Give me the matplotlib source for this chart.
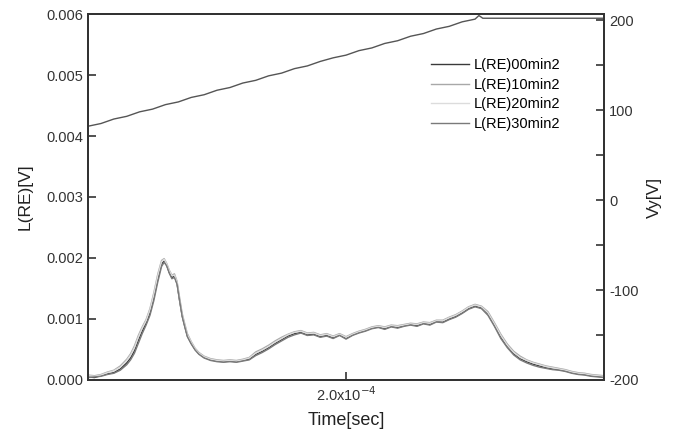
import numpy as np
import matplotlib
matplotlib.use("Agg")
import matplotlib.pyplot as plt

plt.rcParams['font.family'] = ['Liberation Sans', 'DejaVu Sans']
plt.rcParams['axes.unicode_minus'] = False

# time in microseconds
t_us = [0, 5, 10, 15, 20, 25, 30, 33, 36, 39, 42, 45, 48, 51, 54, 57, 59, 61, 63, 65,
        67, 69, 71, 73, 75, 77, 80, 83, 86, 90, 95, 100, 105, 110, 115, 120, 125, 130,
        135, 140, 145, 150, 155, 160, 165, 170, 175, 180, 185, 190, 195, 200, 205, 210,
        215, 220, 225, 230, 235, 240, 245, 250, 255, 260, 265, 270, 275, 280, 285, 290,
        295, 300, 305, 310, 315, 320, 325, 330, 335, 340, 345, 350, 355, 360, 365, 370,
        375, 380, 385, 390, 395, 400]

# L(RE) signals [V]
re_00 = [0.00005, 0.00004, 0.00007, 0.00010, 0.00012, 0.00018, 0.00028, 0.00036, 0.00048, 0.00065,
         0.00080, 0.00093, 0.00110, 0.00135, 0.00165, 0.00190, 0.00195, 0.00188, 0.00176, 0.00168,
         0.00170, 0.00158, 0.00130, 0.00105, 0.00088, 0.00072, 0.00060, 0.00050, 0.00043, 0.00037,
         0.00033, 0.00031, 0.00030, 0.00031, 0.00030, 0.00032, 0.00034, 0.00042, 0.00047, 0.00053,
         0.00060, 0.00066, 0.00072, 0.00076, 0.00078, 0.00074, 0.00075, 0.00071, 0.00073, 0.00069,
         0.00074, 0.00068, 0.00074, 0.00078, 0.00081, 0.00085, 0.00087, 0.00084, 0.00088, 0.00086,
         0.00089, 0.00091, 0.00089, 0.00093, 0.00091, 0.00096, 0.00095, 0.00100, 0.00104, 0.00110,
         0.00117, 0.00121, 0.00118, 0.00108, 0.00090, 0.00070, 0.00055, 0.00043, 0.00035, 0.00030,
         0.00026, 0.00023, 0.00020, 0.00018, 0.00017, 0.00015, 0.00012, 0.00010, 0.00009, 0.00007,
         0.00006, 0.00005]
re_10 = [0.00008, 0.00007, 0.00009, 0.00013, 0.00016, 0.00023, 0.00034, 0.00043, 0.00056, 0.00073,
         0.00087, 0.00099, 0.00117, 0.00143, 0.00173, 0.00196, 0.00199, 0.00191, 0.00180, 0.00172,
         0.00174, 0.00162, 0.00135, 0.00109, 0.00092, 0.00076, 0.00063, 0.00052, 0.00045, 0.00039,
         0.00035, 0.00033, 0.00032, 0.00033, 0.00032, 0.00034, 0.00037, 0.00046, 0.00051, 0.00057,
         0.00064, 0.00070, 0.00075, 0.00079, 0.00081, 0.00077, 0.00078, 0.00074, 0.00076, 0.00072,
         0.00076, 0.00071, 0.00076, 0.00080, 0.00083, 0.00087, 0.00089, 0.00087, 0.00090, 0.00089,
         0.00091, 0.00093, 0.00092, 0.00095, 0.00094, 0.00098, 0.00098, 0.00103, 0.00107, 0.00113,
         0.00120, 0.00124, 0.00121, 0.00112, 0.00094, 0.00075, 0.00059, 0.00047, 0.00039, 0.00033,
         0.00029, 0.00026, 0.00023, 0.00021, 0.00019, 0.00017, 0.00014, 0.00012, 0.00011, 0.00009,
         0.00008, 0.00007]
re_20 = [0.00007, 0.00006, 0.00008, 0.00012, 0.00015, 0.00021, 0.00032, 0.00041, 0.00053, 0.00070,
         0.00085, 0.00097, 0.00115, 0.00140, 0.00170, 0.00194, 0.00198, 0.00190, 0.00179, 0.00171,
         0.00172, 0.00160, 0.00133, 0.00107, 0.00090, 0.00074, 0.00062, 0.00051, 0.00044, 0.00038,
         0.00034, 0.00032, 0.00031, 0.00032, 0.00031, 0.00033, 0.00036, 0.00044, 0.00049, 0.00055,
         0.00062, 0.00068, 0.00074, 0.00078, 0.00080, 0.00076, 0.00077, 0.00073, 0.00075, 0.00071,
         0.00075, 0.00070, 0.00075, 0.00079, 0.00082, 0.00086, 0.00088, 0.00086, 0.00089, 0.00088,
         0.00090, 0.00092, 0.00091, 0.00094, 0.00093, 0.00097, 0.00097, 0.00102, 0.00106, 0.00112,
         0.00119, 0.00123, 0.00120, 0.00110, 0.00092, 0.00073, 0.00057, 0.00045, 0.00037, 0.00032,
         0.00028, 0.00025, 0.00022, 0.00020, 0.00018, 0.00016, 0.00013, 0.00011, 0.00010, 0.00008,
         0.00007, 0.00006]
re_30 = [0.00004, 0.00005, 0.00006, 0.00009, 0.00011, 0.00016, 0.00025, 0.00033, 0.00044, 0.00060,
         0.00076, 0.00090, 0.00106, 0.00130, 0.00160, 0.00186, 0.00193, 0.00187, 0.00175, 0.00166,
         0.00168, 0.00157, 0.00130, 0.00104, 0.00087, 0.00071, 0.00059, 0.00049, 0.00042, 0.00036,
         0.00032, 0.00030, 0.00029, 0.00030, 0.00029, 0.00031, 0.00033, 0.00040, 0.00045, 0.00051,
         0.00058, 0.00064, 0.00070, 0.00074, 0.00077, 0.00073, 0.00074, 0.00070, 0.00072, 0.00068,
         0.00073, 0.00067, 0.00073, 0.00077, 0.00080, 0.00084, 0.00086, 0.00083, 0.00087, 0.00085,
         0.00088, 0.00090, 0.00088, 0.00092, 0.00090, 0.00095, 0.00094, 0.00099, 0.00103, 0.00109,
         0.00116, 0.00120, 0.00117, 0.00106, 0.00088, 0.00068, 0.00053, 0.00041, 0.00033, 0.00028,
         0.00024, 0.00021, 0.00019, 0.00017, 0.00016, 0.00014, 0.00011, 0.00009, 0.00008, 0.00006,
         0.00005, 0.00004]

series_names = ["L(RE)00min2", "L(RE)10min2", "L(RE)20min2", "L(RE)30min2"]
series_colors = ["#3a3a3a", "#a8a8a8", "#dcdcdc", "#7a7a7a"]

# Vy [V] on the right axis
vy_t_us = [0, 10, 20, 30, 40, 50, 60, 70, 80, 90, 100, 110, 120, 130, 140, 150, 160, 170,
           180, 190, 200, 210, 220, 230, 240, 250, 260, 270, 280, 290, 300, 303, 306, 310, 400]
vy = [82, 85, 90, 93, 98, 101, 106, 109, 114, 117, 122, 125, 130, 133, 138, 141, 146, 149,
      154, 158, 161, 166, 169, 174, 177, 182, 185, 190, 193, 198, 201, 205, 202, 202, 202]

fig = plt.figure(figsize=(6.84, 4.42), dpi=100)
ax = fig.add_axes([0.1287, 0.1403, 0.7544, 0.828])
ax2 = ax.twinx()

t = np.array(t_us) * 1e-6
for vals, name, col in zip([re_00, re_10, re_20, re_30], series_names, series_colors):
    ax.plot(t, vals, color=col, lw=1.0, label=name)

ax2.plot(np.array(vy_t_us) * 1e-6, vy, color="#555555", lw=1.0)

ax.set_xlim(0, 4e-4)
ax.set_ylim(0, 0.006)
ax2.set_ylim(-200, 206.7)

ax.set_xticks([2e-4])
ax.set_xticklabels(["2.0x10$^{-4}$"])
ax.set_yticks([0, 0.001, 0.002, 0.003, 0.004, 0.005, 0.006])
ax.set_yticklabels(["0.000", "0.001", "0.002", "0.003", "0.004", "0.005", "0.006"])
ax2.set_yticks([-200, -100, 0, 100, 200])
ax2.set_yticks([-150, -50, 50, 150], minor=True)

ax.tick_params(axis='both', direction='in', length=6, width=1.2, labelsize=10.5,
               colors="#333333", top=False)
ax2.tick_params(axis='y', which='both', direction='in', length=6, width=1.2,
                labelsize=10.5, colors="#333333")

for a in (ax, ax2):
    for s in a.spines.values():
        s.set_linewidth(1.4)
        s.set_color("#333333")

ax.set_xlabel("Time[sec]", fontsize=13, color="#222222", labelpad=6)
ax.set_ylabel("L(RE)[V]", fontsize=12.5, color="#222222", labelpad=10)
ax2.set_ylabel("Vy[V]", fontsize=12.5, color="#222222", labelpad=6)

ax.legend(loc="upper left", bbox_to_anchor=(0.64, 0.915), frameon=False, fontsize=10.5,
          handlelength=2.6, labelspacing=0.38, handletextpad=0.3)

fig.savefig("out.png", dpi=100)
